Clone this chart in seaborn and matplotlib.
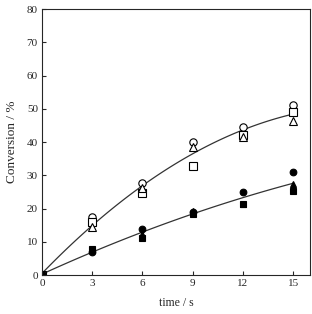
import numpy as np
import matplotlib
matplotlib.use('Agg')
import matplotlib.pyplot as plt
import seaborn as sns

# Datos
tiempo = [0, 3, 6, 9, 12, 15]

abierto_circulo = [0, 17.4, 27.6, 39.9, 44.6, 51.1]
abierto_cuadro = [0, 16.0, 24.6, 32.8, 42.1, 49.1]
abierto_triangulo = [0, 14.5, 26.2, 38.6, 41.6, 46.3]

lleno_circulo = [0, 7.0, 13.9, 19.0, 25.0, 31.0]
lleno_cuadro = [0, 7.8, 11.2, 18.4, 21.5, 25.4]
lleno_triangulo = [0, 7.5, 12.3, 19.3, 21.3, 27.3]

sns.set_style('ticks')
plt.rcParams['font.family'] = ['Liberation Serif', 'DejaVu Serif']
plt.rcParams['xtick.direction'] = 'in'
plt.rcParams['ytick.direction'] = 'in'

fig = plt.figure(figsize=(3.12, 3.14), dpi=100)
ax = fig.add_axes([0.1346, 0.1242, 0.859, 0.847])

# Curvas de ajuste (polinomio de orden 2 sobre los tres conjuntos)
x_abiertos = tiempo * 3
y_abiertos = abierto_circulo + abierto_cuadro + abierto_triangulo
x_llenos = tiempo * 3
y_llenos = lleno_circulo + lleno_cuadro + lleno_triangulo

for xs, ys in [(x_abiertos, y_abiertos), (x_llenos, y_llenos)]:
    sns.regplot(x=np.array(xs), y=np.array(ys), order=2, ci=None, scatter=False,
                line_kws={'color': '#333333', 'linewidth': 0.9}, ax=ax)

# Puntos
estilo = dict(markersize=5.3, linestyle='none', markeredgewidth=0.8, markeredgecolor='black')
ax.plot(tiempo, abierto_circulo, marker='o', markerfacecolor='white', **estilo)
ax.plot(tiempo, abierto_cuadro, marker='s', markerfacecolor='white', **estilo)
ax.plot(tiempo, abierto_triangulo, marker='^', markerfacecolor='white', **estilo)
estilo['markersize'] = 4.8
ax.plot(tiempo, lleno_circulo, marker='o', markerfacecolor='black', **estilo)
ax.plot(tiempo, lleno_cuadro, marker='s', markerfacecolor='black', **estilo)
ax.plot(tiempo, lleno_triangulo, marker='^', markerfacecolor='black', **estilo)

ax.set_xlim(0, 16)
ax.set_ylim(0, 80)
ax.set_xticks(tiempo)
ax.set_yticks(range(0, 81, 10))
ax.tick_params(labelsize=8, length=3, width=0.8, pad=3)
for s in ax.spines.values():
    s.set_linewidth(0.8)

ax.set_xlabel('time / s', fontsize=8.5, labelpad=6)
ax.set_ylabel('Conversion / %', fontsize=9.5, labelpad=6)

plt.savefig('out.png', dpi=100)
